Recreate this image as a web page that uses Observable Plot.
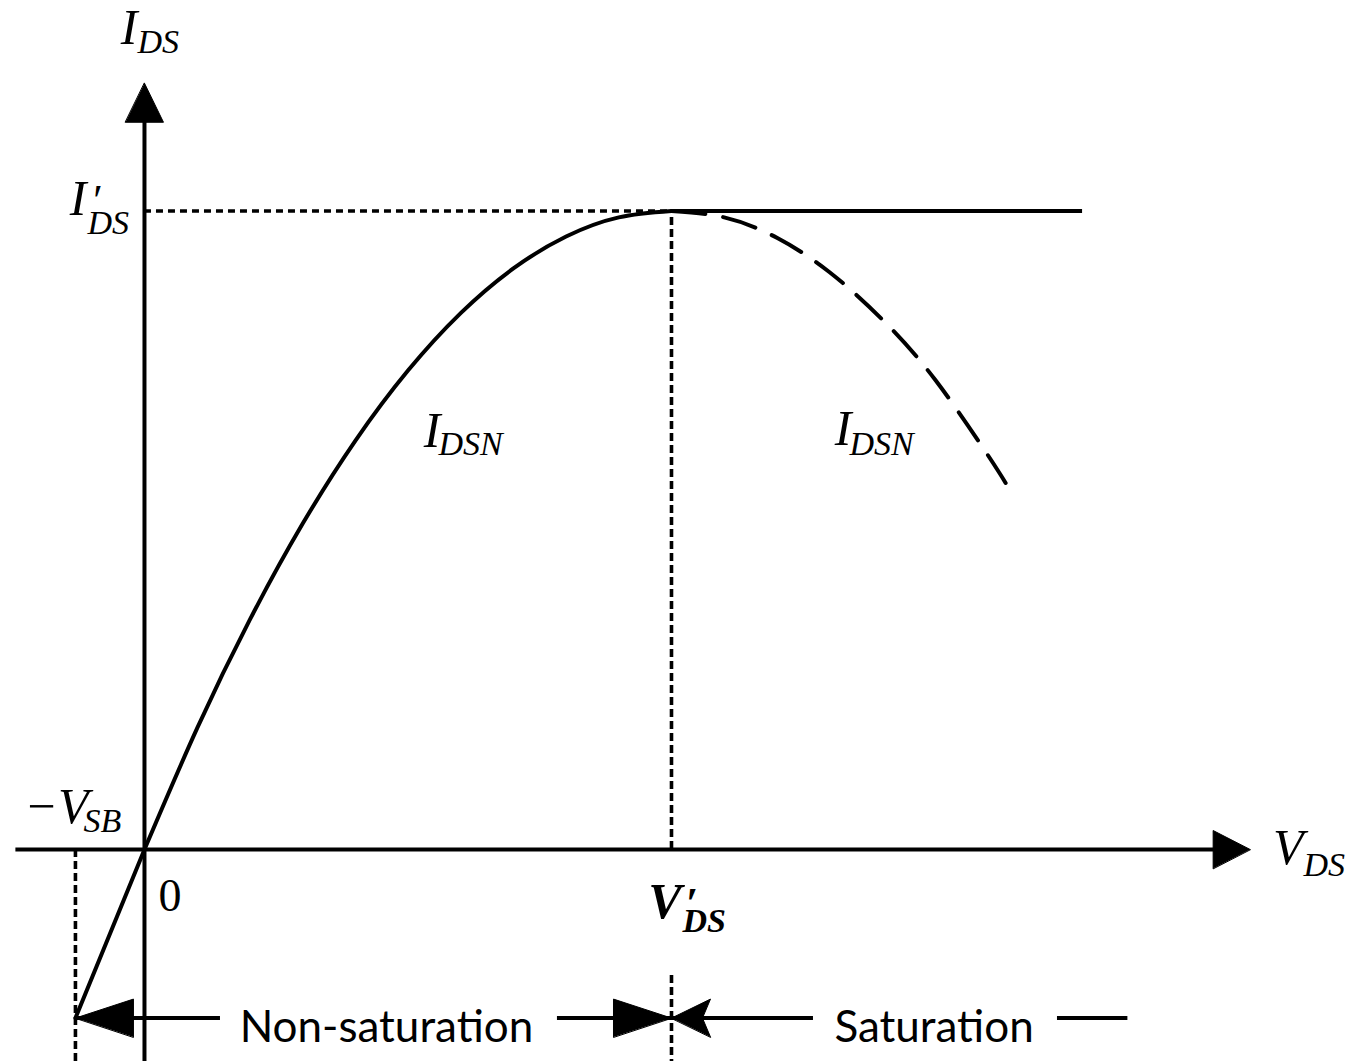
<!DOCTYPE html>
<html>
<head>
<meta charset="utf-8">
<script src="https://cdn.jsdelivr.net/npm/d3@7"></script>
<script src="https://cdn.jsdelivr.net/npm/@observablehq/plot@0.6"></script>
<style>
  html, body { margin: 0; padding: 0; background: #fff; }
</style>
</head>
<body>
<div id="chart"></div>
<script>
// MOSFET output characteristic, normalized so that V'_DS = 5 and I'_DS = 5.

// Non-saturation branch of I_DSN, from 0 up to the peak at V'_DS
const vNonSat = [0, 0.5, 1, 1.5, 2, 2.5, 3, 3.5, 4, 4.5, 5];
const iNonSat = [0, 0.95, 1.8, 2.55, 3.2, 3.75, 4.2, 4.55, 4.8, 4.95, 5];

// I_DSN expression continued past V'_DS (drawn dashed)
const vBeyond = [5, 5.5, 6, 6.5, 7, 7.5, 8, 8.17];
const iBeyond = [5, 4.95, 4.79, 4.52, 4.15, 3.68, 3.09, 2.87];

// Saturation current, flat beyond V'_DS
const vPeak = 5;
const iPeak = 5;
const vSatEnd = 8.9;

// Straight extension of the curve below the origin, down to -V_SB
const vSB = -0.655;
const iSB = -1.32;

// Axis extents
const xAxisFrom = -1.22, xAxisTo = 10.49;
const yAxisTo = 6.0;

// Region brackets along the bottom
const regionFrom = [vSB, vPeak];
const regionTo = [vPeak, 9.33];
const regionNames = ["Non-saturation", "Saturation"];
// where each name sits, and the gap left around it in the bracket line
const regionTextX = [2.296, 7.491];
const regionGap = [[0.721, 3.918], [6.347, 8.662]];

// ---- layout ----
const W = 1350, H = 1061;
const X_DOMAIN = [-1.366, 11.442];
const Y_DOMAIN = [-1.66, 6.648];
const kx = W / (X_DOMAIN[1] - X_DOMAIN[0]); // px per x unit
const ky = H / (Y_DOMAIN[1] - Y_DOMAIN[0]); // px per y unit
const yMin = Y_DOMAIN[0];
const rowY = iSB; // the bracket row passes through the -V_SB end of the extension

const nonSat = vNonSat.map((v, i) => ({v, i: iNonSat[i]}));
const beyond = vBeyond.map((v, i) => ({v, i: iBeyond[i]}));
const extension = [{v: vSB, i: iSB}, {v: 0, i: 0}];

// filled arrow heads, sizes in pixels, turned into data units
function head(id, tx, ty, dir, len, half, notch = 0) {
  if (dir === "up") {
    const by = ty - len / ky, hx = half / kx;
    return [
      {id, x: tx, y: ty},
      {id, x: tx + hx, y: by},
      {id, x: tx, y: by + notch / ky},
      {id, x: tx - hx, y: by}
    ];
  }
  const s = dir === "right" ? -1 : 1;
  const bx = tx + s * len / kx, hy = half / ky;
  return [
    {id, x: tx, y: ty},
    {id, x: bx, y: ty + hy},
    {id, x: bx - s * notch / kx, y: ty},
    {id, x: bx, y: ty - hy}
  ];
}

const heads = [
  ...head("xaxis", xAxisTo, 0, "right", 37, 19),
  ...head("yaxis", 0, yAxisTo, "up", 39, 19),
  ...head("nsLeft", regionFrom[0], rowY, "left", 58, 19),
  ...head("nsRight", regionTo[0], rowY, "right", 58, 19),
  ...head("satLeft", regionFrom[1], rowY, "left", 39, 19, 8)
];

// bracket line pieces, split around the region names
const bracketSegs = [];
regionNames.forEach((name, k) => {
  bracketSegs.push({x1: regionFrom[k], x2: regionGap[k][0]});
  bracketSegs.push({x1: regionGap[k][1], x2: regionTo[k]});
});

// math labels: main letter anchored at its right edge, on its baseline;
// prime and subscript offsets in px
const labels = [
  {x: -0.066, y: 6.304, main: "I", sub: "DS", sdx: 0, sdy: 9},
  {x: -0.550, y: 4.965, main: "I", prime: true, pdx: 4, sub: "DS", sdx: 1, sdy: 19},
  {x: -0.531, y: 0.204, main: "\u2212V", sub: "SB", sdx: -5, sdy: 9},
  {x: 5.095, y: -0.540, main: "V", prime: true, pdx: 4, sub: "DS", sdx: 1, sdy: 14, bold: true},
  {x: 10.996, y: -0.110, main: "V", sub: "DS", sdx: 0, sdy: 12},
  {x: 2.808, y: 3.148, main: "I", sub: "DSN", sdx: -2, sdy: 8},
  {x: 6.708, y: 3.164, main: "I", sub: "DSN", sdx: -2, sdy: 10}
];

const MATH_FONT = "'Liberation Serif', 'DejaVu Serif', serif";
const TEXT_FONT = "Lato, 'Open Sans', sans-serif";
const LW = 4;
const DOT_W = 3.6;

function mathMarks(bold) {
  const data = labels.filter(d => !!d.bold === bold);
  const weight = bold ? "bold" : "normal";
  return [
    Plot.text(data, {
      x: "x", y: "y", text: "main",
      textAnchor: "end", lineAnchor: "bottom",
      fontFamily: MATH_FONT, fontStyle: "italic", fontWeight: weight, fontSize: 50, fill: "black"
    }),
    Plot.text(data.filter(d => d.prime), {
      x: d => d.x + d.pdx / kx, y: "y", text: () => "\u2032",
      textAnchor: "start", lineAnchor: "bottom",
      fontFamily: MATH_FONT, fontStyle: "italic", fontWeight: weight, fontSize: 44, fill: "black"
    }),
    Plot.text(data, {
      x: d => d.x + d.sdx / kx, y: d => d.y - d.sdy / ky, text: "sub",
      textAnchor: "start", lineAnchor: "bottom",
      fontFamily: MATH_FONT, fontStyle: "italic", fontWeight: weight, fontSize: 34, fill: "black"
    })
  ];
}

const chart = Plot.plot({
  width: W,
  height: H,
  margin: 0,
  x: {domain: X_DOMAIN, axis: null},
  y: {domain: Y_DOMAIN, axis: null},
  style: {background: "white"},
  marks: [
    // dotted guides
    Plot.ruleY([iPeak], {x1: 0, x2: vPeak, stroke: "black", strokeWidth: DOT_W, strokeDasharray: "7,5"}),
    Plot.ruleX([vPeak], {y1: 0, y2: iPeak, stroke: "black", strokeWidth: DOT_W, strokeDasharray: "8,4"}),
    Plot.ruleX([vPeak], {y1: -0.987, y2: yMin, stroke: "black", strokeWidth: DOT_W, strokeDasharray: "8,4"}),
    Plot.ruleX([vSB], {y1: 0, y2: yMin, stroke: "black", strokeWidth: DOT_W, strokeDasharray: "8,4"}),

    // axes
    Plot.ruleY([0], {x1: xAxisFrom, x2: xAxisTo - 30 / kx, stroke: "black", strokeWidth: LW}),
    Plot.ruleX([0], {y1: yMin, y2: yAxisTo - 30 / ky, stroke: "black", strokeWidth: LW}),

    // characteristic
    Plot.line(nonSat, {x: "v", y: "i", curve: "natural", stroke: "black", strokeWidth: LW}),
    Plot.line(extension, {x: "v", y: "i", stroke: "black", strokeWidth: LW}),
    Plot.ruleY([iPeak], {x1: vPeak, x2: vSatEnd, stroke: "black", strokeWidth: LW}),
    Plot.line(beyond, {x: "v", y: "i", curve: "natural", stroke: "black", strokeWidth: 4, strokeDasharray: "34,18"}),

    // region brackets
    Plot.ruleY(bracketSegs, {y: rowY, x1: "x1", x2: "x2", stroke: "black", strokeWidth: LW}),
    Plot.line(heads, {x: "x", y: "y", z: "id", curve: "linear-closed", fill: "black", stroke: "black", strokeWidth: 1}),
    Plot.text(regionNames, {
      x: (d, k) => regionTextX[k], y: -1.511, text: d => d,
      textAnchor: "middle", lineAnchor: "bottom",
      fontFamily: TEXT_FONT, fontSize: 44, fill: "black"
    }),

    // origin
    Plot.text(["0"], {
      x: 0.133, y: -0.478, text: d => d, textAnchor: "start", lineAnchor: "bottom",
      fontFamily: MATH_FONT, fontSize: 46, fill: "black"
    }),

    // symbols
    ...mathMarks(false),
    ...mathMarks(true)
  ]
});

document.getElementById("chart").appendChild(chart);
</script>
</body>
</html>
